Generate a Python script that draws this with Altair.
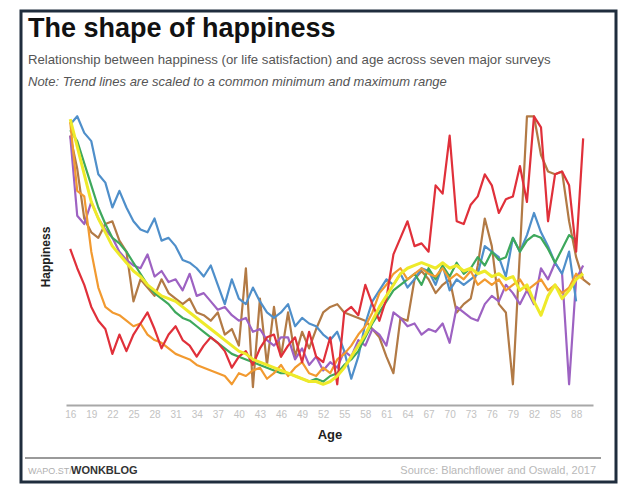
import altair as alt
import pandas as pd

# Ages start at 16, one value per year (normalised happiness 0-100)
START_AGE = 16

blue = [96, 99, 93, 90, 78, 75, 66, 72, 66, 61, 58, 57, 62, 54, 55, 52, 47, 46, 44,
        41, 45, 38, 31, 40, 33, 31, 37, 32, 28, 26, 28, 31, 23, 26, 24, 23, 20, 18,
        21, 14, 4, 12, 24, 32, 36, 40, 38, 42, 37, 40, 44, 43, 38, 45, 36, 40, 38, 40,
        42, 52, 50, 48, 41, 55, 50, 56, 64, 57, 52, 46, 42, 50, 32]
red = [51, 44, 38, 30, 25, 22, 13, 20, 14, 20, 24, 28, 22, 15, 20, 23, 18, 16, 12,
       16, 19, 17, 14, 8, 12, 14, 9, 15, 19, 20, 12, 16, 19, 10, 21, 12, 10, 19, 2,
       28, 30, 27, 38, 31, 25, 33, 49, 55, 61, 52, 53, 50, 74, 71, 92, 61, 60, 67, 70,
       78, 74, 64, 69, 70, 81, 68, 99, 95, 61, 78, 79, 74, 50, 91]
orange = [97, 72, 70, 50, 37, 30, 28, 27, 25, 23, 24, 20, 18, 17, 15, 13, 12, 11, 9,
          8, 7, 6, 5, 2, 6, 5, 7, 8, 4, 6, 9, 5, 8, 10, 6, 5, 8, 6, 11, 13, 16, 20, 23,
          28, 35, 38, 42, 44, 40, 42, 44, 42, 41, 44, 40, 42, 40, 43, 38, 40, 38, 40, 36,
          38, 40, 36, 38, 40, 36, 38, 35, 37, 42, 40]
brown = [92, 80, 62, 57, 55, 60, 61, 54, 50, 32, 40, 37, 34, 40, 35, 33, 31, 33, 28,
         27, 25, 28, 20, 22, 16, 44, 1, 33, 9, 30, 12, 28, 12, 21, 15, 22, 28, 30, 31,
         28, 27, 26, 25, 22, 19, 12, 6, 26, 25, 40, 43, 40, 35, 38, 40, 28, 31, 33, 45,
         62, 52, 31, 28, 2, 50, 99, 99, 85, 79, 78, 79, 61, 48, 40, 38]
purple = [92, 63, 60, 68, 62, 58, 55, 50, 47, 45, 44, 49, 41, 43, 39, 40, 36, 42, 34,
          35, 32, 29, 30, 27, 25, 26, 21, 22, 18, 16, 19, 19, 11, 15, 9, 12, 7, 10, 8,
          14, 12, 18, 16, 22, 20, 16, 28, 26, 23, 24, 20, 22, 21, 24, 17, 30, 28, 26, 25,
          31, 34, 32, 38, 35, 31, 36, 31, 44, 40, 46, 42, 2, 40, 45]
green = [94, 90, 82, 74, 66, 60, 55, 53, 50, 46, 42, 38, 35, 33, 31, 28, 26, 25, 23,
         21, 19, 17, 15, 13, 12, 11, 10, 9, 8, 7, 6, 6, 5, 4, 3, 4, 3, 5, 6, 9, 11, 14,
         19, 24, 28, 32, 36, 38, 40, 42, 38, 44, 40, 45, 41, 46, 42, 44, 48, 45, 50, 47,
         48, 55, 50, 54, 56, 55, 51, 46, 51, 56, 54]
yellow = [98, 88, 78, 68, 62, 57, 52, 49, 46, 43, 41, 38, 36, 34, 33, 32, 30, 28, 26,
          24, 22, 20, 18, 16, 14, 13, 11, 10, 9, 8, 7, 6, 5, 4, 3, 3, 2, 3, 5, 8, 12, 16,
          20, 25, 30, 34, 38, 42, 44, 45, 46, 45, 44, 46, 44, 45, 43, 44, 42, 43, 41, 42,
          40, 41, 36, 38, 32, 27, 34, 38, 33, 36, 40, 42]

series_names = ["Survey A", "Survey B", "Survey C", "Survey D", "Survey E", "Survey F", "Survey G"]
series_values = [brown, purple, blue, green, orange, red, yellow]
series_colors = ["#b27a45", "#9d62c2", "#4f8fca", "#3ea85c", "#f29a30", "#e0303a", "#eeea2a"]
series_widths = [2.2, 2.2, 2.2, 2.2, 2.2, 2.2, 3.0]

x_ticks = list(range(16, 89, 3))

rows = []
for name, vals in zip(series_names, series_values):
    for i, v in enumerate(vals):
        rows.append({"survey": name, "age": START_AGE + i, "happiness": v})
df = pd.DataFrame(rows)

one = pd.DataFrame({"t": [""]})

xs = alt.Scale(domain=[15.4, 90.4], nice=False, zero=False)
ys = alt.Scale(domain=[-5.5, 102], nice=False, zero=False)
cs = alt.Scale(domain=series_names, range=series_colors)

layers = []
for name, w in zip(series_names, series_widths):
    layers.append(
        alt.Chart(df).transform_filter(alt.datum.survey == name)
        .mark_line(strokeWidth=w, strokeJoin="round")
        .encode(
            x=alt.X("age:Q", scale=xs, axis=alt.Axis(
                values=x_ticks, format="d", title="Age", grid=False, ticks=False,
                labelColor="#c2c2c2", labelFontSize=10, labelPadding=4,
                domainColor="#a8a8a8", domainWidth=2,
                titleFontSize=13, titleFontWeight="bold", titleColor="#222",
                titlePadding=9, labelFont="Liberation Sans", titleFont="Liberation Sans")),
            y=alt.Y("happiness:Q", scale=ys, axis=alt.Axis(
                title="Happiness", labels=False, ticks=False, domain=False, grid=False,
                titleFontSize=12, titleFontWeight="bold", titleColor="#222",
                titlePadding=14, titleFont="Liberation Sans")),
            color=alt.Color("survey:N", scale=cs, legend=None),
        )
    )

def txt(s, x, y, size, weight="normal", style="normal", color="#222", align="left"):
    return alt.Chart(pd.DataFrame({"t": [s]})).mark_text(
        align=align, baseline="alphabetic", fontSize=size, fontWeight=weight,
        fontStyle=style, color=color, font="Liberation Sans"
    ).encode(x=alt.value(x), y=alt.value(y), text="t:N")

frame = alt.Chart(one).mark_rect(filled=False, stroke="#1f2d3d", strokeWidth=3).encode(
    x=alt.value(-45), x2=alt.value(550), y=alt.value(-97), y2=alt.value(374))
sep = alt.Chart(one).mark_rule(color="#9a9a9a", strokeWidth=2).encode(
    x=alt.value(-41), x2=alt.value(535), y=alt.value(350))

annotations = [
    frame, sep,
    txt("The shape of happiness", -38, -71, 27, weight="bold", color="#111"),
    txt("Relationship between happiness (or life satisfaction) and age across seven major surveys",
        -38, -44, 13.2, color="#555"),
    txt("Note: Trend lines are scaled to a common minimum and maximum range",
        -38, -22, 13, style="italic", color="#555"),
    txt("WAPO.ST/", -38, 366, 9, color="#b0b0b0"),
    txt("WONKBLOG", 5, 366, 11, weight="bold", color="#333"),
    txt("Source: Blanchflower and Oswald, 2017", 530, 366, 11, color="#b8b8b8", align="right"),
]

chart = alt.layer(*annotations, *layers).properties(
    width=527, height=297,
    autosize=alt.AutoSizeParams(type="none"),
    padding={"left": 58, "top": 100, "right": 27, "bottom": 79},
    background="white",
).configure_view(stroke=None)

chart.save("out.html", embed_options={"renderer": "svg", "actions": False})
